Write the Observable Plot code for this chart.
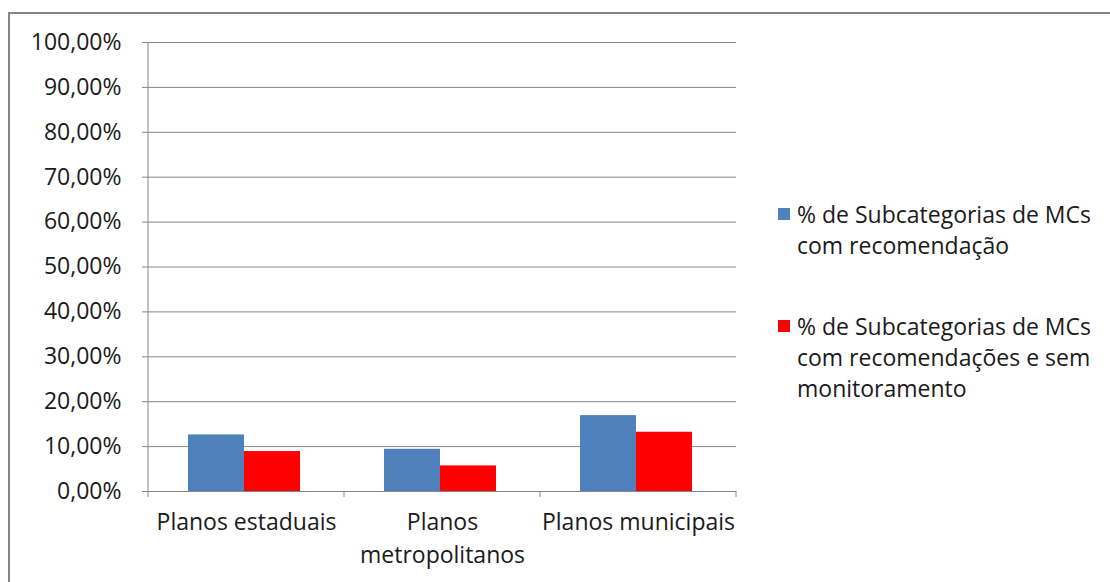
<!DOCTYPE html>
<html>
<head>
<meta charset="utf-8">
<script src="https://cdn.jsdelivr.net/npm/d3@7"></script>
<script src="https://cdn.jsdelivr.net/npm/@observablehq/plot@0.6"></script>
<style>
  html, body { margin: 0; padding: 0; background: #fff; overflow: hidden; }
  #wrap { position: relative; width: 1110px; height: 582px; overflow: hidden; font-family: "Open Sans", sans-serif; }
  #frame { position: absolute; left: 8px; top: 12px; width: 1120px; height: 620px; border: 2px solid #868686; box-sizing: border-box; }
  #chart { position: absolute; left: 0; top: 0; }
  .leg { position: absolute; left: 778px; font-size: 23px; line-height: 31px; color: #1a1a1a; }
  .leg .sw { position: absolute; left: 0; top: 9px; width: 12px; height: 12px; }
  .leg .tx { position: absolute; left: 19px; white-space: nowrap; }
</style>
</head>
<body>
<div id="wrap">
  <div id="frame"></div>
  <div id="chart"></div>
  <div id="legend"></div>
</div>
<script>
const categories = ["Planos estaduais", "Planos metropolitanos", "Planos municipais"];
const categoryLabels = [["Planos estaduais"], ["Planos", "metropolitanos"], ["Planos municipais"]];
const seriesNames = ["% de Subcategorias de MCs com recomendação", "% de Subcategorias de MCs com recomendações e sem monitoramento"];
const seriesLegendLines = [["% de Subcategorias de MCs", "com recomendação"], ["% de Subcategorias de MCs", "com recomendações e sem", "monitoramento"]];
const seriesColors = ["#4f81bd", "#ff0000"];
const withRecommendation = [0.126, 0.094, 0.169];
const withoutMonitoring = [0.089, 0.057, 0.132];
const yTicks = [0, 0.1, 0.2, 0.3, 0.4, 0.5, 0.6, 0.7, 0.8, 0.9, 1.0];

const data = [];
categories.forEach((c, i) => {
  data.push({category: c, series: seriesNames[0], value: withRecommendation[i]});
  data.push({category: c, series: seriesNames[1], value: withoutMonitoring[i]});
});

const fmt = d => (d * 100).toFixed(2).replace(".", ",") + "%";
const grid = "#868686";

const chart = Plot.plot({
  width: 760,
  height: 582,
  marginLeft: 147,
  marginRight: 24,
  marginTop: 42,
  marginBottom: 91,
  style: {fontFamily: "Open Sans, sans-serif", fontSize: "23px", color: "#1a1a1a", background: "transparent"},
  fx: {domain: categories, padding: 0, label: null, axis: null},
  x: {domain: seriesNames, paddingInner: 0, paddingOuter: 0.75, align: 0.48, axis: null},
  y: {domain: [0, 1], label: null},
  color: {domain: seriesNames, range: seriesColors},
  marks: [
    Plot.gridY(yTicks, {stroke: grid, strokeOpacity: 1, strokeWidth: 1}),
    Plot.barY(data, {fx: "category", x: "series", y: "value", fill: "series"}),
    Plot.axisY(yTicks, {tickFormat: fmt, tickSize: 6, tickPadding: 21, stroke: grid, fontSize: 23}),
    Plot.axisFx({anchor: "bottom", tickSize: 0, tickPadding: 16, fontSize: 23, label: null,
      tickFormat: d => categoryLabels[categories.indexOf(d)].join("\n"), lineHeight: 1.4}),
    Plot.ruleY([0], {stroke: grid, strokeWidth: 1})
  ]
});
document.getElementById("chart").appendChild(chart);

// Excel-style category boundary ticks on the x axis, positioned from the fx scale
const fx = chart.scale("fx");
const yS = chart.scale("y");
const svg = d3.select(chart);
const bw = fx.bandwidth;
const bounds = [fx.apply(categories[0])].concat(categories.map(c => fx.apply(c) + bw));
const y0 = yS.apply(0);
svg.append("g").selectAll("line").data(bounds).join("line")
  .attr("x1", d => d).attr("x2", d => d)
  .attr("y1", y0).attr("y2", y0 + 6)
  .attr("stroke", grid);
// y axis line
svg.append("line").attr("x1", bounds[0]).attr("x2", bounds[0])
  .attr("y1", yS.apply(1)).attr("y2", y0).attr("stroke", grid);

// Legend
const legend = document.getElementById("legend");
const legendTops = [199, 311];
seriesNames.forEach((s, i) => {
  const item = document.createElement("div");
  item.className = "leg";
  item.style.top = legendTops[i] + "px";
  const sw = document.createElement("div");
  sw.className = "sw";
  sw.style.background = seriesColors[i];
  const tx = document.createElement("div");
  tx.className = "tx";
  tx.innerHTML = seriesLegendLines[i].join("<br>");
  item.appendChild(sw);
  item.appendChild(tx);
  legend.appendChild(item);
});
</script>
</body>
</html>
